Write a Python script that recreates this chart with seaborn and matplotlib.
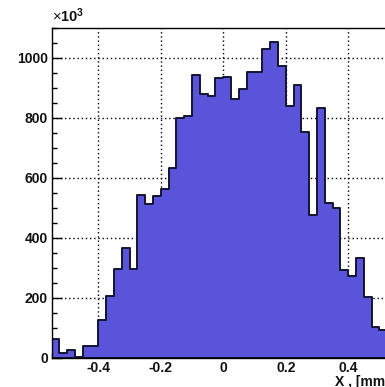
import numpy as np
import pandas as pd
import matplotlib
matplotlib.use("Agg")
import matplotlib.pyplot as plt
from matplotlib.ticker import MultipleLocator, FixedLocator, FixedFormatter
import seaborn as sns

# X position histogram: 0.025 mm bins from -0.55 to 0.55 mm, counts in units of 10^3
x_min, x_max = -0.55, 0.55
counts = [61, 14, 25, 2, 39, 39, 125, 206, 295, 365, 295,
          542, 513, 538, 563, 633, 801, 806, 944, 879, 873, 932,
          937, 864, 898, 954, 954, 1030, 1052, 974, 838, 909, 753,
          477, 832, 516, 500, 293, 273, 332, 203, 103, 92, 60]
y_max = 1100

x_ticks = [-0.4, -0.2, 0.0, 0.2, 0.4]
x_tick_labels = ["-0.4", "-0.2", "0", "0.2", "0.4"]
y_ticks = [0, 200, 400, 600, 800, 1000]
y_tick_labels = ["0", "200", "400", "600", "800", "1000"]
x_title = "X , [mm]"
y_scale_label = r"$\times\mathbf{10^{3}}$"

fill_color = "#5954D9"
line_color = "#141432"

sns.set_style("white")
plt.rcParams["font.family"] = ["Liberation Sans", "DejaVu Sans"]
plt.rcParams["mathtext.fontset"] = "custom"
plt.rcParams["mathtext.rm"] = "Liberation Sans"
plt.rcParams["mathtext.bf"] = "Liberation Sans:bold"
plt.rcParams["axes.unicode_minus"] = False

n_bins = len(counts)
edges = np.linspace(x_min, x_max, n_bins + 1)
centers = 0.5 * (edges[:-1] + edges[1:])
df = pd.DataFrame({"x": centers, "n": counts})

fig = plt.figure(figsize=(3.85, 3.87), dpi=100)
# frame runs past the right border of the canvas
ax = fig.add_axes([0.134, 0.0762, 0.892, 0.8514])

# dotted grid at the major ticks, kept under the histogram
ax.vlines(x_ticks, 0, 1, transform=ax.get_xaxis_transform(),
          colors="black", linestyles=(0, (1, 2.0)), linewidth=1.0, zorder=0.5)
ax.hlines(y_ticks[1:], 0, 1, transform=ax.get_yaxis_transform(),
          colors="black", linestyles=(0, (1, 2.0)), linewidth=1.0, zorder=0.5)

sns.histplot(data=df, x="x", weights="n", bins=n_bins, binrange=(x_min, x_max),
             element="step", fill=True, color=fill_color, alpha=1,
             edgecolor=line_color, linewidth=1.4, ax=ax, zorder=1)

ax.set_xlim(x_min, x_max)
ax.set_ylim(0, y_max)

ax.xaxis.set_major_locator(FixedLocator(x_ticks))
ax.xaxis.set_major_formatter(FixedFormatter(x_tick_labels))
ax.yaxis.set_major_locator(FixedLocator(y_ticks))
ax.yaxis.set_major_formatter(FixedFormatter(y_tick_labels))
ax.xaxis.set_minor_locator(MultipleLocator(0.05))
ax.yaxis.set_minor_locator(MultipleLocator(50))

ax.tick_params(which="both", direction="in", colors="black", width=1,
               bottom=True, left=True, top=False, right=False)
ax.tick_params(which="major", length=7.5, pad=2.5, labelsize=10)
ax.tick_params(which="minor", length=3.8)
for lab in ax.get_xticklabels() + ax.get_yticklabels():
    lab.set_fontweight("bold")
    lab.set_color("#111111")

for side in ["left", "bottom", "top", "right"]:
    ax.spines[side].set_visible(True)
    ax.spines[side].set_color("black")
    ax.spines[side].set_linewidth(1.0)

ax.set_ylabel("")
ax.set_xlabel(x_title, fontsize=10, fontweight="bold", ha="left", va="center",
              color="#111111")
ax.xaxis.set_label_coords(0.826, -0.073)

ax.annotate(y_scale_label, xy=(0, 1), xycoords="axes fraction",
            xytext=(0, 2), textcoords="offset points",
            ha="left", va="bottom", fontsize=10.5, color="#111111")

fig.savefig("out.png", dpi=100)
